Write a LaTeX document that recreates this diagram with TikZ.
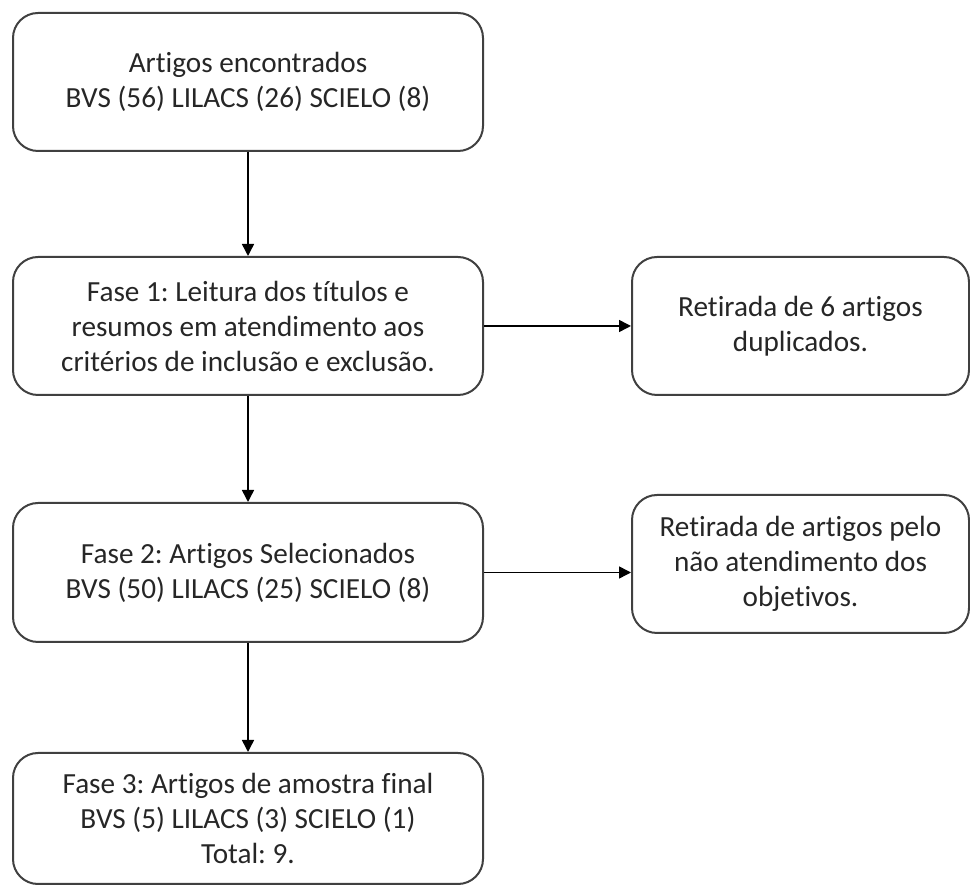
\documentclass[tikz,border=0pt]{standalone}
\usepackage{fontspec}
\setmainfont[Ligatures=NoCommon]{Carlito}
\frenchspacing
\usetikzlibrary{arrows.meta}
\begin{document}
\begin{tikzpicture}[x=0.5pt,y=-0.5pt,
  flowbox/.style={draw=black!75, line width=1pt, rounded corners=12.5pt, align=center,
    inner sep=0pt, text=black!85, font=\fontsize{14.6pt}{17.5pt}\selectfont},
  flowarrow/.style={line width=0.75pt, -{Triangle[length=6pt,width=6pt]}}]
\useasboundingbox (0,0) rectangle (970,886);
\node[flowbox, minimum width=235pt, minimum height=69pt] (b1) at (248,82)
  {Artigos encontrados\\BVS (56) LILACS (26) SCIELO (8)};
\node[flowbox, minimum width=235pt, minimum height=69pt] (b2) at (248,326)
  {Fase 1: Leitura dos títulos e\\resumos em atendimento aos\\critérios de inclusão e exclusão.};
\node[flowbox, minimum width=235pt, minimum height=69.5pt] (b3) at (248,572.5)
  {Fase 2: Artigos Selecionados\\BVS (50) LILACS (25) SCIELO (8)};
\node[flowbox, minimum width=235pt, minimum height=65.5pt] (b4) at (248,818.5)
  {Fase 3: Artigos de amostra final\\BVS (5) LILACS (3) SCIELO (1)\\Total: 9.};
\node[flowbox, minimum width=168.5pt, minimum height=69pt] (r1) at (800.5,326)
  {Retirada de 6 artigos\\duplicados.};
\node[flowbox, minimum width=168.5pt, minimum height=69pt] (r2) at (800.5,564)
  {Retirada de artigos pelo\\não atendimento dos\\objetivos.};
\draw[flowarrow] (b1.south) -- (b2.north);
\draw[flowarrow] (b2.south) -- (b3.north);
\draw[flowarrow] (b3.south) -- (b4.north);
\draw[flowarrow] (b2.east) -- (r1.west);
\draw[flowarrow] (b3.east) -- (b3.east -| r2.west);
\end{tikzpicture}
\end{document}
